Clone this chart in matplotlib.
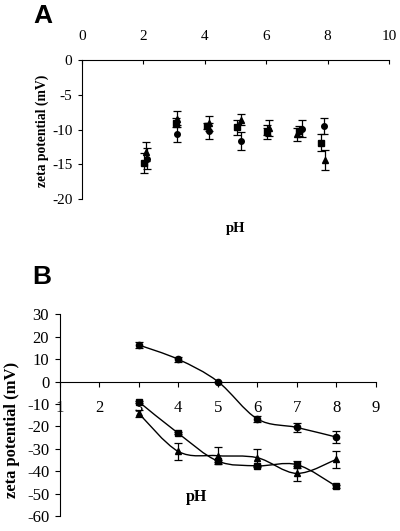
import numpy as np
import matplotlib
matplotlib.use("Agg")
import matplotlib.pyplot as plt
from matplotlib.path import Path
from matplotlib.patches import PathPatch

# ---------------- Panel A data ----------------
a_sq_x = [2.02, 3.06, 4.08, 5.05, 6.01, 7.07, 7.79]
a_sq_y = [-14.8, -9.0, -9.5, -9.7, -10.3, -10.2, -11.9]
a_sq_e = [1.4, 0.6, 0.4, 1.1, 0.5, 0.7, 1.2]

a_ci_x = [2.12, 3.09, 4.15, 5.17, 6.04, 7.17, 7.88]
a_ci_y = [-14.2, -10.6, -10.2, -11.6, -10.3, -9.9, -9.5]
a_ci_e = [1.5, 1.2, 1.2, 1.3, 1.0, 1.2, 1.1]

a_tr_x = [2.07, 3.08, 4.15, 5.17, 6.10, 7.01, 7.92]
a_tr_y = [-13.2, -8.5, -9.1, -8.6, -9.8, -10.7, -14.4]
a_tr_e = [1.4, 1.1, 1.1, 0.8, 1.1, 0.95, 1.4]

a_xticks = [0, 2, 4, 6, 8, 10]
a_yticks = [0, -5, -10, -15, -20]

# ---------------- Panel B data ----------------
b_x = [3, 4, 5, 6, 7, 8]
b_ci_y = [16.3, 9.9, 0.0, -16.7, -20.5, -24.8]
b_ci_e = [1.5, 1.0, 0.0, 1.5, 2.0, 2.5]
b_sq_y = [-9.0, -23.1, -35.5, -37.6, -37.1, -46.8]
b_sq_e = [0.5, 0.5, 0.5, 0.5, 1.5, 0.5]
b_tr_y = [-14.2, -31.2, -33.1, -34.0, -41.0, -34.7]
b_tr_e = [1.5, 3.6, 3.7, 3.9, 3.4, 3.8]

b_xticks = [1, 2, 3, 4, 5, 6, 7, 8, 9]
b_yticks = [30, 20, 10, 0, -10, -20, -30, -40, -50, -60]

SERIF = "Liberation Serif"
SANS = "Liberation Sans"

fig = plt.figure(figsize=(4.0, 5.31), dpi=100)

# ---------------- Panel A ----------------
axA = fig.add_axes([0.205, 0.6252, 0.7675, 0.2618])
axA.set_xlim(0, 10)
axA.set_ylim(-20, 0)
for s in ["bottom", "right"]:
    axA.spines[s].set_visible(False)
for s in ["left", "top"]:
    axA.spines[s].set_linewidth(0.8)
axA.xaxis.tick_top()
axA.set_xticks(a_xticks)
axA.set_xticklabels([str(t) for t in a_xticks], fontfamily=SERIF, fontsize=11)
axA.tick_params(axis="x", direction="in", length=3, width=0.8, pad=12)
axA.set_yticks(a_yticks)
axA.set_yticklabels([str(t) for t in a_yticks], fontfamily=SERIF, fontsize=11)
axA.tick_params(axis="y", direction="out", length=3, width=0.8, pad=4)

ekw = dict(ls="none", color="black", ecolor="black", elinewidth=0.9,
           capthick=0.9, zorder=3)
axA.errorbar(a_sq_x, a_sq_y, yerr=a_sq_e, marker="s", ms=3.8, capsize=2.8, **ekw)
axA.errorbar(a_ci_x, a_ci_y, yerr=a_ci_e, marker="o", ms=4.0, capsize=2.8, **ekw)
axA.errorbar(a_tr_x, a_tr_y, yerr=a_tr_e, marker="^", ms=4.2, capsize=2.8, **ekw)

axA.set_ylabel("zeta potential (mV)", fontfamily=SERIF, fontweight="bold",
               fontsize=9.8)
axA.yaxis.set_label_coords(-0.106, 0.49)
axA.text(5.0, -24.2, "pH", fontfamily=SERIF, fontweight="bold", fontsize=10.5,
         ha="center", va="center", clip_on=False)
fig.text(0.108, 0.969, "A", fontfamily=SANS, fontweight="bold", fontsize=19,
         ha="center", va="center")

# ---------------- Panel B ----------------
axB = fig.add_axes([0.149, 0.02825, 0.791, 0.3799])
axB.set_xlim(1, 9)
axB.set_ylim(-60, 30)
for s in ["top", "right"]:
    axB.spines[s].set_visible(False)
axB.spines["bottom"].set_position(("data", 0))
axB.spines["bottom"].set_linewidth(0.8)
axB.spines["left"].set_linewidth(0.8)
axB.set_xticks(b_xticks)
axB.set_xticklabels([str(t) for t in b_xticks], fontfamily=SERIF, fontsize=12)
axB.tick_params(axis="x", direction="out", length=3.5, width=0.8, pad=10)
axB.set_yticks(b_yticks)
axB.set_yticklabels([str(t) for t in b_yticks], fontfamily=SERIF, fontsize=12)
axB.tick_params(axis="y", direction="out", length=3.5, width=0.8, pad=4)


def smooth_path(xs, ys):
    pts = np.column_stack([xs, ys]).astype(float)
    n = len(pts)
    verts = [pts[0]]
    codes = [Path.MOVETO]
    for i in range(n - 1):
        p0 = pts[i - 1] if i > 0 else pts[i]
        p1 = pts[i]
        p2 = pts[i + 1]
        p3 = pts[i + 2] if i + 2 < n else pts[i + 1]
        c1 = p1 + (p2 - p0) / 6.0
        c2 = p2 - (p3 - p1) / 6.0
        verts += [c1, c2, p2]
        codes += [Path.CURVE4] * 3
    return Path(verts, codes)


for ys in (b_ci_y, b_sq_y, b_tr_y):
    axB.add_patch(PathPatch(smooth_path(b_x, ys), fill=False, lw=1.0,
                            edgecolor="black", zorder=3))

ekwB = dict(ls="none", color="black", ecolor="black", elinewidth=0.9,
            capthick=0.9, zorder=4)
axB.errorbar(b_x, b_ci_y, yerr=b_ci_e, marker="o", ms=4.5, capsize=3.2, **ekwB)
axB.errorbar(b_x, b_sq_y, yerr=b_sq_e, marker="s", ms=4.3, capsize=3.2, **ekwB)
axB.errorbar(b_x, b_tr_y, yerr=b_tr_e, marker="^", ms=4.8, capsize=3.2, **ekwB)

axB.set_ylabel("zeta potential (mV)", fontfamily=SERIF, fontweight="bold",
               fontsize=12)
axB.yaxis.set_label_coords(-0.125, 0.426)
axB.text(4.45, -51.6, "pH", fontfamily=SERIF, fontweight="bold", fontsize=11.5,
         ha="center", va="center")
fig.text(0.105, 0.478, "B", fontfamily=SANS, fontweight="bold", fontsize=19,
         ha="center", va="center")

fig.savefig("out.png", dpi=100)
